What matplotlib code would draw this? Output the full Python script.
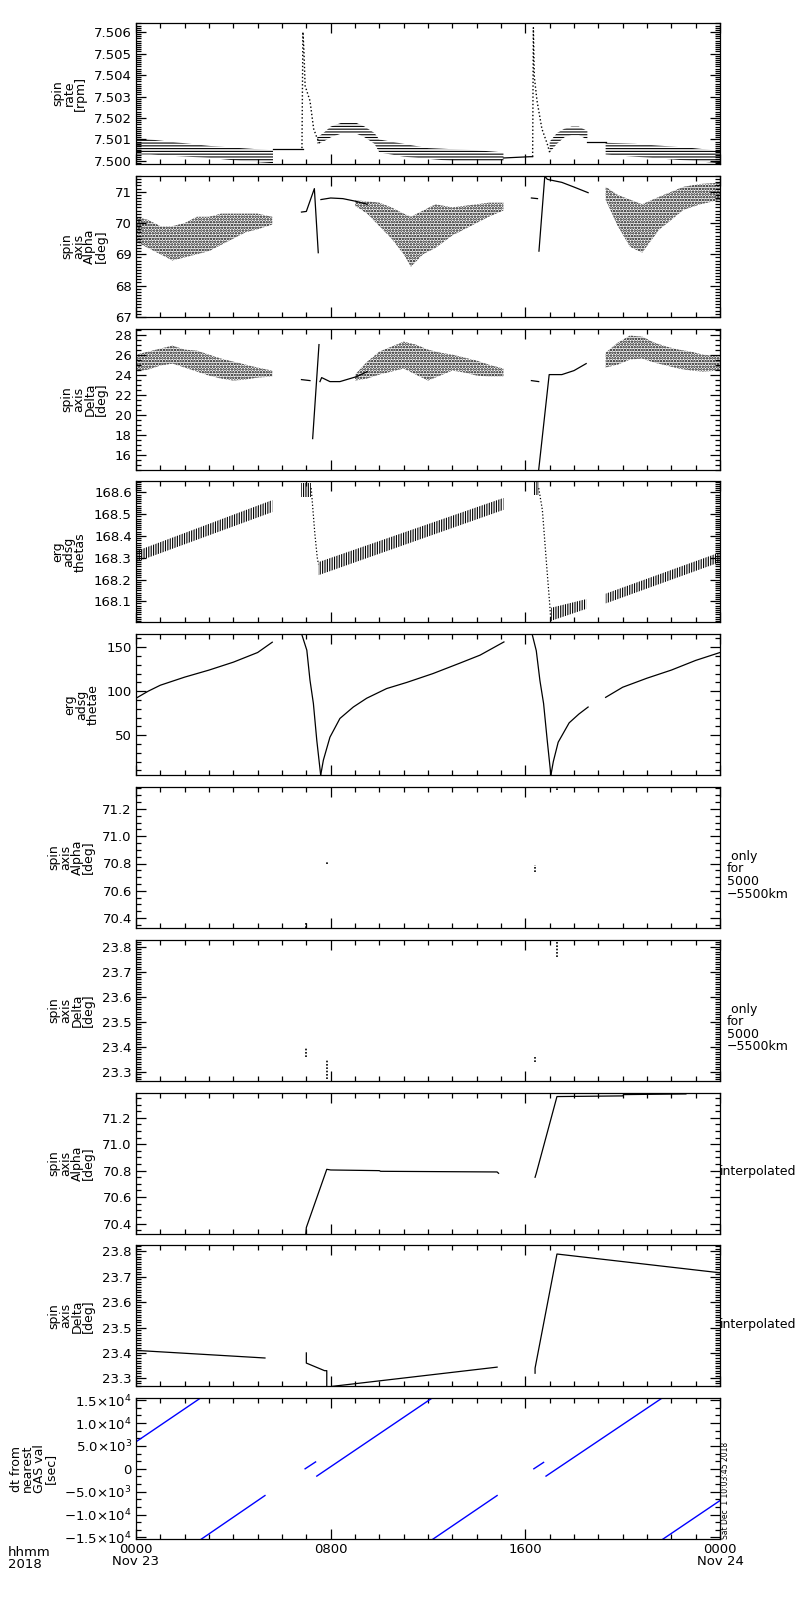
import matplotlib
matplotlib.use('Agg')
import matplotlib.pyplot as plt
from matplotlib.ticker import AutoMinorLocator, MultipleLocator, FixedLocator, NullFormatter

plt.rcParams['font.family'] = ['DejaVu Sans']
plt.rcParams['hatch.linewidth'] = 0.8
plt.rcParams['axes.linewidth'] = 0.9

# ---------------- data (hours of day, 2018 Nov 23) ----------------
# panel 1: spin rate [rpm]
rate_a_h = [0, 0.6, 1.8, 3.05, 4.3, 5.63]
rate_a_hi = [7.5011, 7.5010, 7.50085, 7.5007, 7.5006, 7.5005]
rate_a_lo = [7.5003, 7.5003, 7.50022, 7.50014, 7.5000, 7.4999]
rate_b_h = [5.63, 6.85]
rate_b = [7.50055, 7.50055]
rate_s1_h = [6.82, 6.86, 6.9, 6.95, 7.15, 7.3, 7.43, 7.56]
rate_s1 = [7.5006, 7.5060, 7.50516, 7.5035, 7.5028, 7.5015, 7.5011, 7.5008]
rate_c_h = [7.45, 7.7, 8.0, 8.5, 9.0, 9.4, 9.8, 10.0, 11.0, 12.0, 13.0, 14.0, 15.1]
rate_c_hi = [7.5011, 7.5013, 7.5016, 7.5018, 7.5018, 7.5016, 7.5013, 7.5010, 7.5008, 7.5006, 7.50055, 7.5005, 7.5004]
rate_c_lo = [7.5008, 7.5009, 7.5011, 7.5013, 7.5013, 7.5011, 7.5008, 7.5004, 7.5002, 7.5001, 7.5000, 7.5000, 7.5000]
rate_d_h = [15.1, 16.2, 16.3]
rate_d = [7.50014, 7.5002, 7.5002]
rate_s2_h = [16.3, 16.33, 16.37, 16.48, 16.68, 16.9, 17.0]
rate_s2 = [7.5002, 7.5062, 7.5039, 7.5028, 7.5015, 7.5008, 7.5004]
rate_e_h = [17.0, 17.3, 17.6, 17.9, 18.2, 18.55]
rate_e_hi = [7.5009, 7.5013, 7.5015, 7.5016, 7.5016, 7.5014]
rate_e_lo = [7.5004, 7.5008, 7.5011, 7.5012, 7.5012, 7.5010]
rate_f_h = [18.55, 19.3]
rate_f = [7.5009, 7.5009]
rate_g_h = [19.3, 20.5, 21.7, 22.9, 24]
rate_g_hi = [7.50085, 7.5008, 7.5007, 7.5006, 7.50047]
rate_g_lo = [7.5003, 7.5002, 7.5001, 7.5000, 7.4999]

# panel 2: spin axis alpha [deg]
alp_a_h = [0, 0.5, 1, 1.5, 2, 2.5, 3, 3.5, 4, 4.5, 5, 5.6]
alp_a_hi = [70.2, 70.1, 69.9, 69.9, 70.0, 70.2, 70.2, 70.3, 70.3, 70.3, 70.3, 70.2]
alp_a_lo = [69.4, 69.2, 69.0, 68.8, 68.9, 69.0, 69.1, 69.3, 69.5, 69.7, 69.8, 69.95]
alp_b_h = [6.8, 7.0, 7.33, 7.49]
alp_b = [70.35, 70.37, 71.1, 69.05]
alp_c_h = [7.6, 8.0, 8.5, 9.0, 9.5]
alp_c = [70.75, 70.8, 70.78, 70.7, 70.6]
alp_d_h = [9.0, 9.5, 10, 10.5, 11, 11.3, 11.8, 12.3, 13, 13.5, 14, 14.5, 15.1]
alp_d_hi = [70.72, 70.7, 70.65, 70.5, 70.3, 70.2, 70.4, 70.6, 70.5, 70.55, 70.6, 70.65, 70.65]
alp_d_lo = [70.55, 70.3, 69.9, 69.5, 69.0, 68.6, 69.0, 69.2, 69.6, 69.8, 70.0, 70.2, 70.4]
alp_e_h = [16.25, 16.5]
alp_e = [70.8, 70.78]
alp_f_h = [16.56, 16.8, 16.9, 17.0, 17.5, 18.0, 18.58]
alp_f = [69.1, 71.5, 71.4, 71.38, 71.3, 71.15, 70.97]
alp_g_h = [19.3, 19.8, 20.3, 20.8, 21.5, 22.0, 22.5, 23.2, 24]
alp_g_hi = [71.16, 70.9, 70.75, 70.6, 70.84, 71.0, 71.16, 71.25, 71.29]
alp_g_lo = [70.74, 69.9, 69.24, 69.05, 69.79, 70.1, 70.42, 70.6, 70.74]

# panel 3: spin axis delta [deg]
dlt_a_h = [0, 0.5, 1, 1.5, 2, 2.5, 3, 3.5, 4, 4.5, 5, 5.6]
dlt_a_hi = [26.0, 26.3, 26.6, 26.9, 26.5, 26.4, 26.0, 25.6, 25.3, 25.0, 24.7, 24.4]
dlt_a_lo = [24.3, 24.5, 24.9, 25.1, 24.7, 24.3, 23.9, 23.6, 23.4, 23.5, 23.7, 23.8]
dlt_b_h = [6.8, 7.15]
dlt_b = [23.5, 23.4]
dlt_c_h = [7.26, 7.52]
dlt_c = [17.6, 27.0]
dlt_d_h = [7.56, 7.63, 7.97, 8.38, 9.07, 9.5]
dlt_d = [23.3, 23.7, 23.3, 23.3, 23.8, 24.3]
dlt_e_h = [9.0, 9.5, 10, 10.5, 11, 11.5, 12, 12.5, 13, 13.5, 14, 14.5, 15.1]
dlt_e_hi = [24.0, 25.3, 26.3, 26.8, 27.3, 27.0, 26.5, 26.2, 26.0, 25.7, 25.4, 25.0, 24.6]
dlt_e_lo = [23.4, 23.6, 24.0, 24.3, 24.6, 24.0, 23.4, 23.9, 24.4, 24.2, 23.9, 23.8, 23.8]
dlt_f_h = [16.25, 16.55]
dlt_f = [23.4, 23.3]
dlt_g_h = [16.55, 16.98, 17.5, 18.0, 18.5]
dlt_g = [14.5, 24.0, 24.0, 24.4, 25.1]
dlt_i_h = [19.3, 19.8, 20.3, 20.8, 21.3, 21.8, 22.3, 22.8, 23.3, 24]
dlt_i_hi = [26.2, 27.2, 27.9, 27.8, 27.2, 26.8, 26.5, 26.3, 26.0, 25.8]
dlt_i_lo = [24.7, 25.0, 25.5, 25.6, 25.2, 24.9, 24.6, 24.4, 24.3, 24.4]

# panel 4: erg adsg thetas
ths_a_h = [0, 5.6]
ths_a_hi = [168.33, 168.565]
ths_a_lo = [168.28, 168.51]
ths_b_h = [6.8, 7.2]
ths_b_hi = [168.645, 168.645]
ths_b_lo = [168.58, 168.58]
ths_c_h = [7.2, 7.35, 7.45, 7.5]
ths_c = [168.62, 168.41, 168.30, 168.27]
ths_d_h = [7.5, 15.1]
ths_d_hi = [168.28, 168.575]
ths_d_lo = [168.22, 168.52]
ths_e_h = [16.3, 16.55]
ths_e_hi = [168.648, 168.648]
ths_e_lo = [168.59, 168.59]
ths_f_h = [16.55, 16.7, 16.9, 17.0, 17.05]
ths_f = [168.62, 168.52, 168.23, 168.09, 168.005]
ths_g_h = [17.05, 18.5]
ths_g_hi = [168.07, 168.11]
ths_g_lo = [168.01, 168.065]
ths_i_h = [19.3, 24]
ths_i_hi = [168.135, 168.325]
ths_i_lo = [168.09, 168.28]

# panel 5: erg adsg thetae
the_a_h = [0, 0.5, 1, 2, 3, 4, 5, 5.6]
the_a = [92, 100, 106.8, 116, 124, 133, 144, 155.7]
the_b_h = [6.81, 7.02, 7.15, 7.29, 7.43, 7.59]
the_b = [164.8, 146.6, 112.5, 86, 44, 4.5]
the_c_h = [7.59, 7.7, 7.97, 8.38, 8.93, 9.48, 10.3, 11.13, 12.2, 13.3, 14.14, 15.12]
the_c = [4.5, 21.6, 47.7, 69, 82, 92, 103, 110, 120, 131.8, 141, 156]
the_d_h = [16.28, 16.45, 16.6, 16.75, 16.9, 17.05]
the_d = [164.8, 146, 112, 86, 44, 4.5]
the_e_h = [17.05, 17.15, 17.35, 17.8, 18.2, 18.58]
the_e = [4.5, 20, 42, 64, 74, 82]
the_f_h = [19.3, 20, 21, 22, 23, 24]
the_f = [93, 104.5, 114.8, 124, 135, 144]

# panel 6: spin axis alpha, only for 5000-5500 km
ao_h = [6.98, 6.98, 7.84, 7.84, 16.4, 16.4, 17.3, 17.3]
ao = [70.33, 70.36, 70.795, 70.81, 70.74, 70.79, 71.34, 71.36]

# panel 7: spin axis delta, only for 5000-5500 km
do_h = [7.0, 7.0, 7.84, 7.84, 16.4, 16.4, 17.3, 17.3]
do = [23.36, 23.40, 23.27, 23.35, 23.34, 23.36, 23.76, 23.82]

# panel 8: spin axis alpha, interpolated
ai_a_h = [6.98, 7.0, 7.84, 8.0, 10.0, 10.05, 14.84, 14.9]
ai_a = [70.324, 70.37, 70.81, 70.805, 70.80, 70.795, 70.79, 70.78]
ai_b_h = [16.4, 16.45, 17.3, 20.0, 20.05, 22.6]
ai_b = [70.75, 70.78, 71.36, 71.365, 71.375, 71.38]

# panel 9: spin axis delta, interpolated
di_a_h = [0, 5.3]
di_a = [23.41, 23.38]
di_b_h = [7.0, 7.0, 7.75, 7.84, 7.84]
di_b = [23.40, 23.36, 23.33, 23.33, 23.27]
di_c_h = [8.05, 14.84]
di_c = [23.268, 23.344]
di_d_h = [16.4, 16.4, 17.3, 24]
di_d = [23.32, 23.34, 23.79, 23.716]

# panel 10: dt from nearest GAS value [sec]
dt_h = [[0, 2.63], [2.68, 5.3], [6.95, 7.38], [7.43, 12.15],
        [12.2, 14.84], [16.35, 16.75], [16.85, 21.6], [21.65, 24]]
dt_v = [[5900, 15400], [-15400, -5850], [0, 1500], [-1600, 15400],
        [-15400, -5850], [0, 1400], [-1600, 15400], [-15400, -6950]]

ylabels = ['spin\nrate\n[rpm]', 'spin\naxis\nAlpha\n[deg]', 'spin\naxis\nDelta\n[deg]',
           'erg\nadsg\nthetas', 'erg\nadsg\nthetae', 'spin\naxis\nAlpha\n[deg]',
           'spin\naxis\nDelta\n[deg]', 'spin\naxis\nAlpha\n[deg]', 'spin\naxis\nDelta\n[deg]',
           'dt from\nnearest\nGAS val\n[sec]']
ylims = [(7.49986, 7.50642), (67.0, 71.51), (14.5, 28.6), (168.003, 168.651),
         (4.5, 164.8), (70.327, 71.361), (23.264, 23.828), (70.324, 71.39),
         (23.268, 23.824), (-15400, 15440)]
ymajor = [0.001, 1, 2, 0.1, 50, 0.2, 0.1, 0.2, 0.1, 5000]
yminor = [10, 10, 4, 10, 5, 4, 10, 4, 10, 3]
yfmt = ['%.3f', '%d', '%d', '%.1f', '%d', '%.1f', '%.1f', '%.1f', '%.1f', None]
dt_ticks = [-15000, -10000, -5000, 0, 5000, 10000, 15000]
dt_labels = ['\u22121.5\u00d710$^4$', '\u22121.0\u00d710$^4$', '\u22125.0\u00d710$^3$', '0',
             '5.0\u00d710$^3$', '1.0\u00d710$^4$', '1.5\u00d710$^4$']
xlabels = ['0000\nNov 23', '0800', '1600', '0000\nNov 24']

# ---------------- figure ----------------
W, H = 800, 1600
fig = plt.figure(figsize=(8, 16), dpi=100)
left, right = 136, 720
top0, pitch, ph = 23, 152.8, 141

axes = []
for i in range(10):
    t = top0 + i * pitch
    ax = fig.add_axes([left / W, 1 - (t + ph) / H, (right - left) / W, ph / H])
    ax.set_xlim(0, 24)
    ax.set_ylim(*ylims[i])
    ax.xaxis.set_major_locator(FixedLocator([0, 8, 16, 24]))
    ax.xaxis.set_minor_locator(MultipleLocator(1))
    ax.yaxis.set_major_locator(MultipleLocator(ymajor[i]))
    ax.yaxis.set_minor_locator(AutoMinorLocator(yminor[i]))
    ax.tick_params(which='both', direction='in', top=True, right=True, width=0.9,
                   labelsize=9.5, pad=3)
    ax.tick_params(which='major', length=7)
    ax.tick_params(which='minor', length=3.6)
    if yfmt[i]:
        ax.yaxis.set_major_formatter(plt.FormatStrFormatter(yfmt[i]))
    if i < 9:
        ax.xaxis.set_major_formatter(NullFormatter())
    ax.set_ylabel(ylabels[i], fontsize=9, linespacing=0.85, labelpad=5)
    axes.append(ax)

k = 'black'
lw = 0.9

def band(ax, h, lo, hi, hatch, hlw=0.8):
    with plt.rc_context({'hatch.linewidth': hlw}):
        ax.fill_between(h, lo, hi, facecolor='none', edgecolor=k, hatch=hatch, linewidth=0)

# panel 1
ax = axes[0]
band(ax, rate_a_h, rate_a_lo, rate_a_hi, '------')
band(ax, rate_c_h, rate_c_lo, rate_c_hi, '------')
band(ax, rate_e_h, rate_e_lo, rate_e_hi, '------')
band(ax, rate_g_h, rate_g_lo, rate_g_hi, '------')
ax.plot(rate_b_h, rate_b, color=k, lw=lw)
ax.plot(rate_d_h, rate_d, color=k, lw=lw)
ax.plot(rate_f_h, rate_f, color=k, lw=lw)
ax.plot(rate_s1_h, rate_s1, color=k, lw=1, ls=':')
ax.plot(rate_s2_h, rate_s2, color=k, lw=1, ls=':')

# panel 2
ax = axes[1]
band(ax, alp_a_h, alp_a_lo, alp_a_hi, '......', 1.2)
band(ax, alp_d_h, alp_d_lo, alp_d_hi, '......', 1.2)
band(ax, alp_g_h, alp_g_lo, alp_g_hi, '......', 1.2)
for hh, vv in [(alp_b_h, alp_b), (alp_c_h, alp_c), (alp_e_h, alp_e), (alp_f_h, alp_f)]:
    ax.plot(hh, vv, color=k, lw=lw)

# panel 3
ax = axes[2]
band(ax, dlt_a_h, dlt_a_lo, dlt_a_hi, '......', 1.2)
band(ax, dlt_e_h, dlt_e_lo, dlt_e_hi, '......', 1.2)
band(ax, dlt_i_h, dlt_i_lo, dlt_i_hi, '......', 1.2)
for hh, vv in [(dlt_b_h, dlt_b), (dlt_c_h, dlt_c), (dlt_d_h, dlt_d), (dlt_f_h, dlt_f), (dlt_g_h, dlt_g)]:
    ax.plot(hh, vv, color=k, lw=lw)

# panel 4
ax = axes[3]
for hh, lo, hi in [(ths_a_h, ths_a_lo, ths_a_hi), (ths_b_h, ths_b_lo, ths_b_hi),
                   (ths_d_h, ths_d_lo, ths_d_hi), (ths_e_h, ths_e_lo, ths_e_hi),
                   (ths_g_h, ths_g_lo, ths_g_hi), (ths_i_h, ths_i_lo, ths_i_hi)]:
    band(ax, hh, lo, hi, '|||||||')
ax.plot(ths_c_h, ths_c, color=k, lw=lw, ls=':')
ax.plot(ths_f_h, ths_f, color=k, lw=lw, ls=':')

# panel 5
ax = axes[4]
for hh, vv in [(the_a_h, the_a), (the_b_h, the_b), (the_c_h, the_c),
               (the_d_h, the_d), (the_e_h, the_e), (the_f_h, the_f)]:
    ax.plot(hh, vv, color=k, lw=lw)

# panels 6, 7: isolated vertical marks
for ax, hh, vv in [(axes[5], ao_h, ao), (axes[6], do_h, do)]:
    for j in range(0, len(hh), 2):
        ax.plot(hh[j:j + 2], vv[j:j + 2], color=k, lw=1.2, ls=(0, (1, 1)))

# panel 8
ax = axes[7]
ax.plot(ai_a_h, ai_a, color=k, lw=lw)
ax.plot(ai_b_h, ai_b, color=k, lw=lw)

# panel 9
ax = axes[8]
for hh, vv in [(di_a_h, di_a), (di_b_h, di_b), (di_c_h, di_c), (di_d_h, di_d)]:
    ax.plot(hh, vv, color=k, lw=lw)

# panel 10
ax = axes[9]
for hh, vv in zip(dt_h, dt_v):
    ax.plot(hh, vv, color='#0000ff', lw=1)
ax.yaxis.set_major_locator(FixedLocator(dt_ticks))
ax.set_yticklabels(dt_labels)
ax.set_xticks([0, 8, 16, 24])
ax.set_xticklabels(xlabels, linespacing=0.9)

# annotations on the right side
for i, txt in [(5, ' only\nfor\n5000\n\u22125500km'), (6, ' only\nfor\n5000\n\u22125500km')]:
    t = top0 + i * pitch
    fig.text(727 / W, 1 - (t + 63) / H, txt, fontsize=9, ha='left', va='top', linespacing=0.95)
for i in (7, 8):
    t = top0 + i * pitch
    fig.text(720 / W, 1 - (t + 79) / H, 'interpolated', fontsize=9, ha='left', va='center')

fig.text(8 / W, 1 - 1546 / H, 'hhmm\n2018', fontsize=9.5, ha='left', va='top', linespacing=0.9)
fig.text(721 / W, 1 - 1539 / H, 'Sat Dec  1 10:03:45 2018', fontsize=5.5, rotation=90,
         ha='left', va='bottom')

fig.savefig('out.png', dpi=100)
